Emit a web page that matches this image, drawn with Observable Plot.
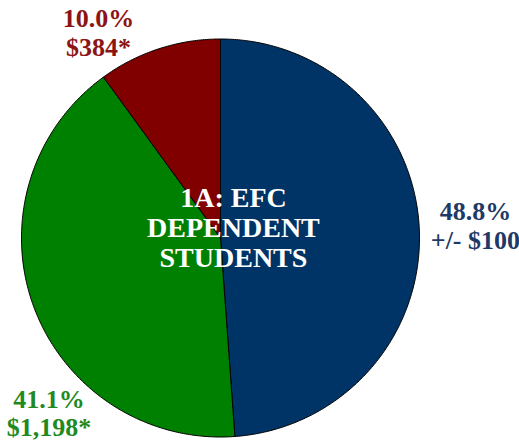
<!DOCTYPE html>
<html>
<head>
<meta charset="utf-8">
<script src="https://cdn.jsdelivr.net/npm/d3@7"></script>
<script src="https://cdn.jsdelivr.net/npm/@observablehq/plot@0.6"></script>
<style>
  html, body { margin: 0; padding: 0; background: #fff; }
  #chart { width: 519px; height: 445px; }
</style>
</head>
<body>
<div id="chart"></div>
<script>
// ---- data ----
const segments = ["+/- $100", "$1,198*", "$384*"];
const shares = [48.8, 41.1, 10.0];
const pctLabels = ["48.8%", "41.1%", "10.0%"];
const centerTitle = ["1A: EFC", "DEPENDENT", "STUDENTS"];

// ---- styles ----
const fillColors = ["#003366", "#008000", "#800000"];
const textColors = ["#1f3a66", "#1f8a1f", "#8b1414"];

// ---- layout (pie in unit coordinates, radius 1) ----
const layout = {
  width: 519, height: 445,
  cx: 220, cy: 237.5, r: 199,
  labelPos: [[1.281, 0.064], [-0.862, -0.878], [-0.613, 1.036]],
  titlePos: [0.065, 0.051]
};

const W = layout.width, H = layout.height;
const xDomain = [-layout.cx / layout.r, (W - layout.cx) / layout.r];
const yDomain = [-(H - layout.cy) / layout.r, layout.cy / layout.r];

const arcs = d3.pie().sort(null).value(d => d)(shares);
const outline = [];
arcs.forEach((a, i) => {
  const key = segments[i];
  outline.push({key, u: 0, v: 0});
  const steps = Math.max(8, Math.ceil((a.endAngle - a.startAngle) / 0.01));
  for (let k = 0; k <= steps; k++) {
    const t = a.startAngle + (a.endAngle - a.startAngle) * k / steps;
    outline.push({key, u: Math.sin(t), v: Math.cos(t)});
  }
  outline.push({key, u: 0, v: 0});
});

const labels = segments.map((s, i) => ({
  key: s,
  text: pctLabels[i] + "\n" + s,
  u: layout.labelPos[i][0],
  v: layout.labelPos[i][1],
  color: textColors[i]
}));

const font = "'Liberation Serif', 'Times New Roman', serif";

const chart = Plot.plot({
  width: W, height: H,
  margin: 0,
  x: {domain: xDomain, axis: null},
  y: {domain: yDomain, axis: null},
  color: {domain: segments, range: fillColors},
  style: {fontFamily: font, background: "white"},
  marks: [
    Plot.line(outline, {x: "u", y: "v", z: "key", fill: "key", stroke: "black", strokeWidth: 1, curve: "linear", strokeLinejoin: "round"}),
    Plot.text(labels, {x: "u", y: "v", text: "text", fill: d => d.color, fontSize: 26, fontWeight: "bold", lineHeight: 1.115, textAnchor: "middle", lineAnchor: "middle", fontFamily: font}),
    Plot.text([centerTitle.join("\n")], {x: layout.titlePos[0], y: layout.titlePos[1], text: d => d, fill: "white", fontSize: 28, fontWeight: "bold", lineHeight: 1.07, textAnchor: "middle", lineAnchor: "middle", fontFamily: font})
  ]
});
document.getElementById("chart").appendChild(chart);
</script>
</body>
</html>
